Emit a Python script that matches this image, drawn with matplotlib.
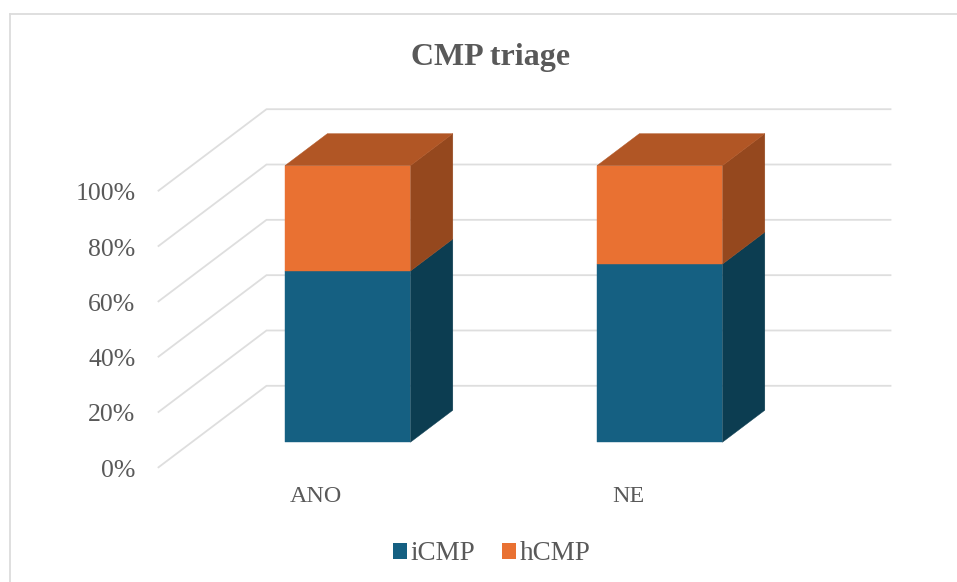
import matplotlib
matplotlib.use("Agg")
import matplotlib.pyplot as plt
from matplotlib.patches import Polygon, Patch
from matplotlib.lines import Line2D
from matplotlib.transforms import ScaledTranslation

# Data
categories = ["ANO", "NE"]
icmp = [61.9, 64.4]
hcmp = [38.1, 35.6]
series_names = ["iCMP", "hCMP"]
y_ticks = [0, 20, 40, 60, 80, 100]
title = "CMP triage"

# Style
W, H = 957, 582
FRONT, SIDE_BLUE, SIDE_OR, TOP_OR = "#156082", "#0C3D51", "#95481E", "#B15625"
ORANGE = "#E97132"
GRID = "#DEDEDE"
TEXT = "#595959"
DEPTH_X = 108 / 312      # category units across the whole depth
DEPTH_Y = 81.5 / 2.766   # percent units across the whole depth
Z0, Z1 = 0.307, 0.70     # bar depth extent
BAR_W = 0.402

plt.rcParams["font.family"] = ["Liberation Serif", "DejaVu Serif"]
fig = plt.figure(figsize=(W / 100, H / 100), dpi=100, facecolor="white")
ax = fig.add_axes([158.5 / W, 1 - 467.3 / H, 624 / W, 276.6 / H])
ax.set_xlim(-0.5, 1.5)
ax.set_ylim(0, 100)
ax.patch.set_visible(False)
for s in ax.spines.values():
    s.set_visible(False)


def P(x, v, z):
    return (x + z * DEPTH_X, v + z * DEPTH_Y)


# Chart frame
fig.add_artist(Line2D([10 / W, 10 / W], [0, 1 - 14 / H], color="#DCDCDC", lw=1.3))
fig.add_artist(Line2D([10 / W, 1], [1 - 14 / H, 1 - 14 / H], color="#DCDCDC", lw=1.3))

# Gridlines: along the side wall and the back wall
for t in y_ticks:
    a, b, c = P(-0.5, t, 0), P(-0.5, t, 1), P(1.5, t, 1)
    ax.plot([a[0], b[0], c[0]], [a[1], b[1], c[1]], color=GRID, lw=1.3,
            solid_joinstyle="miter", clip_on=False, zorder=1)


def box(x, low, high, front, side):
    l, r = x - BAR_W / 2, x + BAR_W / 2
    ax.add_patch(Polygon([P(r, low, Z0), P(r, low, Z1), P(r, high, Z1), P(r, high, Z0)],
                         fc=side, ec=side, lw=0.3, clip_on=False, zorder=3))
    ax.add_patch(Polygon([P(l, low, Z0), P(r, low, Z0), P(r, high, Z0), P(l, high, Z0)],
                         fc=front, ec=front, lw=0.3, clip_on=False, zorder=4))


for i, (a, b) in enumerate(zip(icmp, hcmp)):
    box(i, 0, a, FRONT, SIDE_BLUE)
    box(i, a, a + b, ORANGE, SIDE_OR)
    top = a + b
    l, r = i - BAR_W / 2, i + BAR_W / 2
    ax.add_patch(Polygon([P(l, top, Z0), P(r, top, Z0), P(r, top, Z1), P(l, top, Z1)],
                         fc=TOP_OR, ec=TOP_OR, lw=0.3, clip_on=False, zorder=4))

ax.set_xticks(range(len(categories)), categories)
ax.set_yticks(y_ticks, [f"{t}%" for t in y_ticks])
ax.tick_params(axis="y", length=0, pad=16.5, labelsize=18.5, labelcolor=TEXT)
ax.tick_params(axis="x", length=0, pad=13.5, labelsize=17.3, labelcolor=TEXT)
for lab in ax.get_xticklabels():
    lab.set_transform(lab.get_transform() + ScaledTranslation(1.5 / 100, 0, fig.dpi_scale_trans))
for lab in ax.get_yticklabels():
    lab.set_transform(lab.get_transform() + ScaledTranslation(0, -1 / 100, fig.dpi_scale_trans))

fig.text(490.5 / W, 1 - 57 / H, title, ha="center", va="center", fontsize=23,
         fontweight="bold", color=TEXT)

handles = [Patch(fc=FRONT, ec="none"), Patch(fc=ORANGE, ec="none")]
fig.legend(handles, series_names, loc="center", bbox_to_anchor=(491.5 / W, 1 - 554 / H),
           ncol=2, frameon=False, fontsize=19.5, labelcolor=TEXT, handlelength=0.517,
           handleheight=0.517, handletextpad=0.13, columnspacing=1.0,
           borderpad=0, borderaxespad=0)

fig.savefig("out.png", dpi=100)
